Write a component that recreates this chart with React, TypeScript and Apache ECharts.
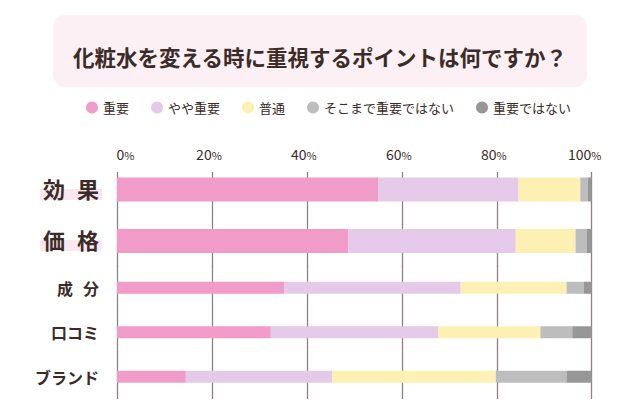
import React, { useEffect, useRef } from 'react';
import * as echarts from 'echarts';

const titleText = '化粧水を変える時に重視するポイントは何ですか？';
const categoriesTop = ['効果', '価格'];
const categoriesBottom = ['成分', '口コミ', 'ブランド'];
const seriesNames = ['重要', 'やや重要', '普通', 'そこまで重要ではない', '重要ではない'];
const important = [55.0, 48.7, 35.2, 32.4, 14.5];
const somewhat = [29.6, 35.3, 37.2, 35.3, 30.8];
const neutral = [13.0, 12.6, 22.3, 21.5, 34.5];
const notVery = [1.6, 2.3, 3.6, 6.7, 14.9];
const notImportant = [0.8, 1.1, 1.7, 4.1, 5.3];
const xTickMax = 100;
const xTickStep = 20;

const seriesValues = [important, somewhat, neutral, notVery, notImportant];
const colors = ['#F09BC8', '#E5C9E8', '#FDF0B3', '#BDBDBD', '#979797'];
const FONT = "'Noto Sans CJK JP', 'Noto Sans', sans-serif";
const TEXT = '#3b2c27';
const GRID_LINE = '#8d827d';

export default function App() {
  const ref = useRef<HTMLDivElement>(null);
  useEffect(() => {
    if (!ref.current) return;
    const chart = echarts.init(ref.current, null, { renderer: 'svg' });
    const nTop = categoriesTop.length;
    const series: any[] = [];
    seriesNames.forEach((name, i) => {
      const vals = seriesValues[i];
      series.push({
        type: 'bar', name, stack: 'top', xAxisIndex: 0, yAxisIndex: 0,
        barWidth: 24, itemStyle: { color: colors[i] },
        data: vals.slice(0, nTop),
      });
      series.push({
        type: 'bar', name, stack: 'bottom', xAxisIndex: 1, yAxisIndex: 1,
        barWidth: 12, itemStyle: { color: colors[i] },
        data: vals.slice(nTop),
      });
    });
    const highlight = new echarts.graphic.LinearGradient(0, 0, 0, 1, [
      { offset: 0, color: 'rgba(252,230,240,0)' },
      { offset: 0.48, color: 'rgba(252,230,240,0)' },
      { offset: 0.48, color: '#FCE6F0' },
      { offset: 0.9, color: '#FCE6F0' },
      { offset: 0.9, color: 'rgba(252,230,240,0)' },
      { offset: 1, color: 'rgba(252,230,240,0)' },
    ]);
    const xLabelFmt = (v: number) => {
      const s = String(v);
      if (v === 0) return `{s17| }{n|${s}}{p|%}`;
      if (s.length >= 3) return `{n|${s}}{p|%}{s14| }`;
      return `{n|${s}}{p|%}{s6| }`;
    };
    const xAxisBase = {
      type: 'value', min: 0, max: xTickMax, interval: xTickStep,
      axisLine: { show: false }, axisTick: { show: false },
      splitLine: { show: true, lineStyle: { color: GRID_LINE, width: 1.3 } },
    };
    chart.setOption({
      animation: false,
      textStyle: { fontFamily: FONT },
      title: {
        text: titleText, left: 'center', top: 41,
        textStyle: { fontSize: 21.5, fontWeight: 'bold', color: TEXT, fontFamily: FONT },
      },
      graphic: [
        { type: 'rect', z: -10, shape: { x: 53, y: 15, width: 534, height: 72, r: 12 }, style: { fill: '#FDF0F5' } },
        { type: 'rect', z: 100, shape: { x: 105, y: 163, width: 500, height: 9 }, style: { fill: '#ffffff' } },
      ],
      legend: {
        data: seriesNames, left: 81, top: 96, icon: 'circle',
        itemWidth: 12, itemHeight: 12, itemGap: 22,
        textStyle: { fontSize: 13, color: TEXT, fontFamily: FONT },
      },
      grid: [
        { left: 117, right: 48.3, top: 163.75, height: 103, containLabel: false },
        { left: 117, right: 48.3, top: 265.5, height: 133.5, containLabel: false },
      ],
      xAxis: [
        {
          ...xAxisBase, gridIndex: 0, position: 'top',
          axisLabel: {
            margin: 3, formatter: xLabelFmt,
            rich: {
              n: { fontSize: 14, color: TEXT, fontFamily: FONT },
              p: { fontSize: 11, color: TEXT, fontFamily: FONT, verticalAlign: 'bottom' },
              s17: { width: 17 }, s14: { width: 14 }, s6: { width: 6 },
            },
          },
        },
        { ...xAxisBase, gridIndex: 1, axisLabel: { show: false } },
      ],
      yAxis: [
        {
          type: 'category', gridIndex: 0, inverse: true, data: categoriesTop,
          axisLine: { show: false }, axisTick: { show: false },
          axisLabel: {
            margin: 15, padding: [0, 3, 0, 3], backgroundColor: highlight,
            formatter: (v: string) => v.split('').map((c) => `{h|${c}}`).join('{g| }'),
            rich: {
              h: { fontSize: 22, fontWeight: 'bold', color: TEXT, fontFamily: FONT, lineHeight: 22, verticalAlign: 'top' },
              g: { width: 12, lineHeight: 26 },
            },
          },
        },
        {
          type: 'category', gridIndex: 1, inverse: true, data: categoriesBottom,
          axisLine: { show: false }, axisTick: { show: false },
          axisLabel: {
            margin: 18,
            formatter: (v: string) =>
              v.length === 2 ? v.split('').map((c) => `{s|${c}}`).join('{sg| }') : `{s|${v}}`,
            rich: {
              s: { fontSize: 16, fontWeight: 'bold', color: TEXT, fontFamily: FONT },
              sg: { width: 10 },
            },
          },
        },
      ],
      series,
    });
    return () => chart.dispose();
  }, []);
  return (
    <div
      ref={ref}
      style={{ position: 'fixed', left: 0, top: 0, width: 640, height: 420, background: '#ffffff' }}
    />
  );
}
